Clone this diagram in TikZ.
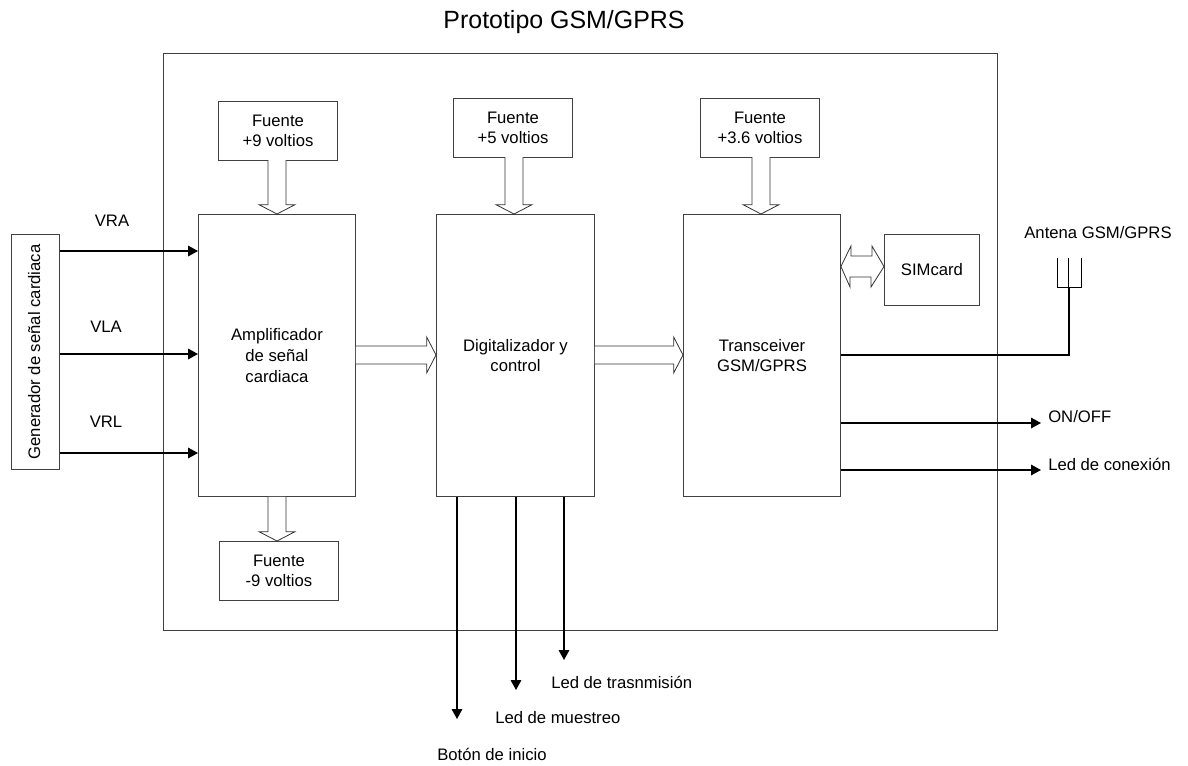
\documentclass[tikz,border=0pt]{standalone}
\usepackage{fontspec}
\setmainfont{Liberation Sans}
\usetikzlibrary{calc,arrows.meta,positioning}
\tikzset{
  x=0.75pt,y=-0.75pt,
  blockbox/.style={draw=black!75,line width=0.7pt,inner sep=0pt,align=center,font=\fontsize{12.5}{15.5}\selectfont},
  lbl/.style={inner sep=0pt,align=center,font=\fontsize{12.5}{15.5}\selectfont},
  sig/.style={draw=black,line width=0.9pt,-{Triangle[length=7.5pt,width=8pt]}},
  wire/.style={draw=black,line width=0.8pt},
  hollow/.style={draw=black!80,line width=0.6pt,fill=white,line join=miter,
    to path={let \p1=($(\tikztotarget)!7pt!(\tikztostart)$) in
      ($(\tikztostart)!6.75pt!90:(\tikztotarget)$) -- ($(\p1)!6.75pt!90:(\tikztotarget)$)
      -- ($(\p1)!13.5pt!90:(\tikztotarget)$) -- (\tikztotarget)
      -- ($(\p1)!13.5pt!-90:(\tikztotarget)$) -- ($(\p1)!6.75pt!-90:(\tikztotarget)$)
      -- ($(\tikztostart)!6.75pt!-90:(\tikztotarget)$)}},
}
\newcommand{\boxat}[5]{\node[blockbox,minimum width=#3*0.75pt,minimum height=#4*0.75pt,anchor=north west] (#1) at (#2) {#5};}
\begin{document}
\begin{tikzpicture}
\useasboundingbox (0,0) rectangle (1188,765);
\node[inner sep=0pt,font=\fontsize{18.7}{20}\selectfont] (title) at (564,22) {Prototipo GSM/GPRS};
\boxat{outer}{163,53}{834}{577}{}
\boxat{gen}{11,234}{48}{235}{\hspace*{-2pt}\rotatebox{90}{Generador de señal cardiaca}}
\boxat{amp}{198,214}{157}{282}{Amplificador\\de señal\\cardiaca}
\boxat{dig}{436,214}{158}{282}{Digitalizador y\\control}
\boxat{tra}{683,214}{157}{282}{Transceiver\\GSM/GPRS}
\boxat{f9}{218,101}{119}{59}{Fuente\\+9 voltios}
\boxat{f5}{453,98}{119}{59}{Fuente\\+5 voltios}
\boxat{f36}{700,98}{119}{59}{Fuente\\+3.6 voltios}
\boxat{fm9}{219,541}{119}{59}{Fuente\\-9 voltios}
\boxat{sim}{884,234}{95}{71}{SIMcard}
% hollow arrows
\coordinate (h1) at (277,160); \coordinate (h2) at (514,157); \coordinate (h3) at (761,157); \coordinate (h4) at (277,541);
\coordinate (h5) at (355,355);
\draw[hollow] (h1) to (amp.north -| h1);
\draw[hollow] (h2) to (dig.north -| h2);
\draw[hollow] (h3) to (tra.north -| h3);
\draw[hollow] (amp.south -| h4) to (h4);
\draw[hollow] (amp.east |- h5) to (dig.west |- h5);
\draw[hollow] (dig.east |- h5) to (tra.west |- h5);
% SIM double arrow
\draw[draw=black!80,line width=0.6pt,fill=white] (tra.east |- 0,266.5) -- ++(10,-20.5) -- ++(0,10) -- ++(21,0) -- ++(0,-10) -- (sim.west |- 0,266.5) -- ++(-13,20.5) -- ++(0,-10) -- ++(-21,0) -- ++(0,10) -- cycle;
% inputs
\coordinate (gra) at (gen.east |- 0,251); \coordinate (ara) at (amp.west |- 0,251);
\coordinate (gla) at (gen.east |- 0,354); \coordinate (ala) at (amp.west |- 0,354);
\coordinate (grl) at (gen.east |- 0,453); \coordinate (arl) at (amp.west |- 0,453);
\draw[sig] (gra) -- (ara);
\draw[sig] (gla) -- (ala);
\draw[sig] (grl) -- (arl);
\node[lbl] (vra) at (112,221) {VRA};
\node[lbl] (vla) at (106,327) {VLA};
\node[lbl] (vrl) at (106,422) {VRL};
% antenna
\node[lbl] (ant) at (1098,233) {Antena GSM/GPRS};
\coordinate (ant0) at (1069,355);
\draw[wire] (tra.east |- ant0) -- (ant0) -- (1069,287);
\draw[draw=black,line width=0.5pt] (1057,258) -- (1057,287) -- (1081,287) -- (1081,258) (1068.5,258) -- (1068.5,287);
% outputs
\node[lbl,anchor=west] (onoff) at (1048,417) {ON/OFF};
\node[lbl,anchor=west] (led) at (1048,464) {Led de conexión};
\coordinate (on) at (1041,423); \coordinate (lc) at (1041,470);
\draw[sig] (tra.east |- on) -- (on);
\draw[sig] (tra.east |- lc) -- (lc);
% lower outputs
\node[lbl,anchor=west] (ltx) at (551,682) {Led de trasnmisión};
\node[lbl,anchor=west] (lmu) at (495,718) {Led de muestreo};
\node[lbl,anchor=west] (bot) at (437,754) {Botón de inicio};
\coordinate (d1) at (457,719); \coordinate (d2) at (516,690); \coordinate (d3) at (564,660);
\draw[sig] (dig.south -| d1) -- (d1);
\draw[sig] (dig.south -| d2) -- (d2);
\draw[sig] (dig.south -| d3) -- (d3);
\end{tikzpicture}
\end{document}
